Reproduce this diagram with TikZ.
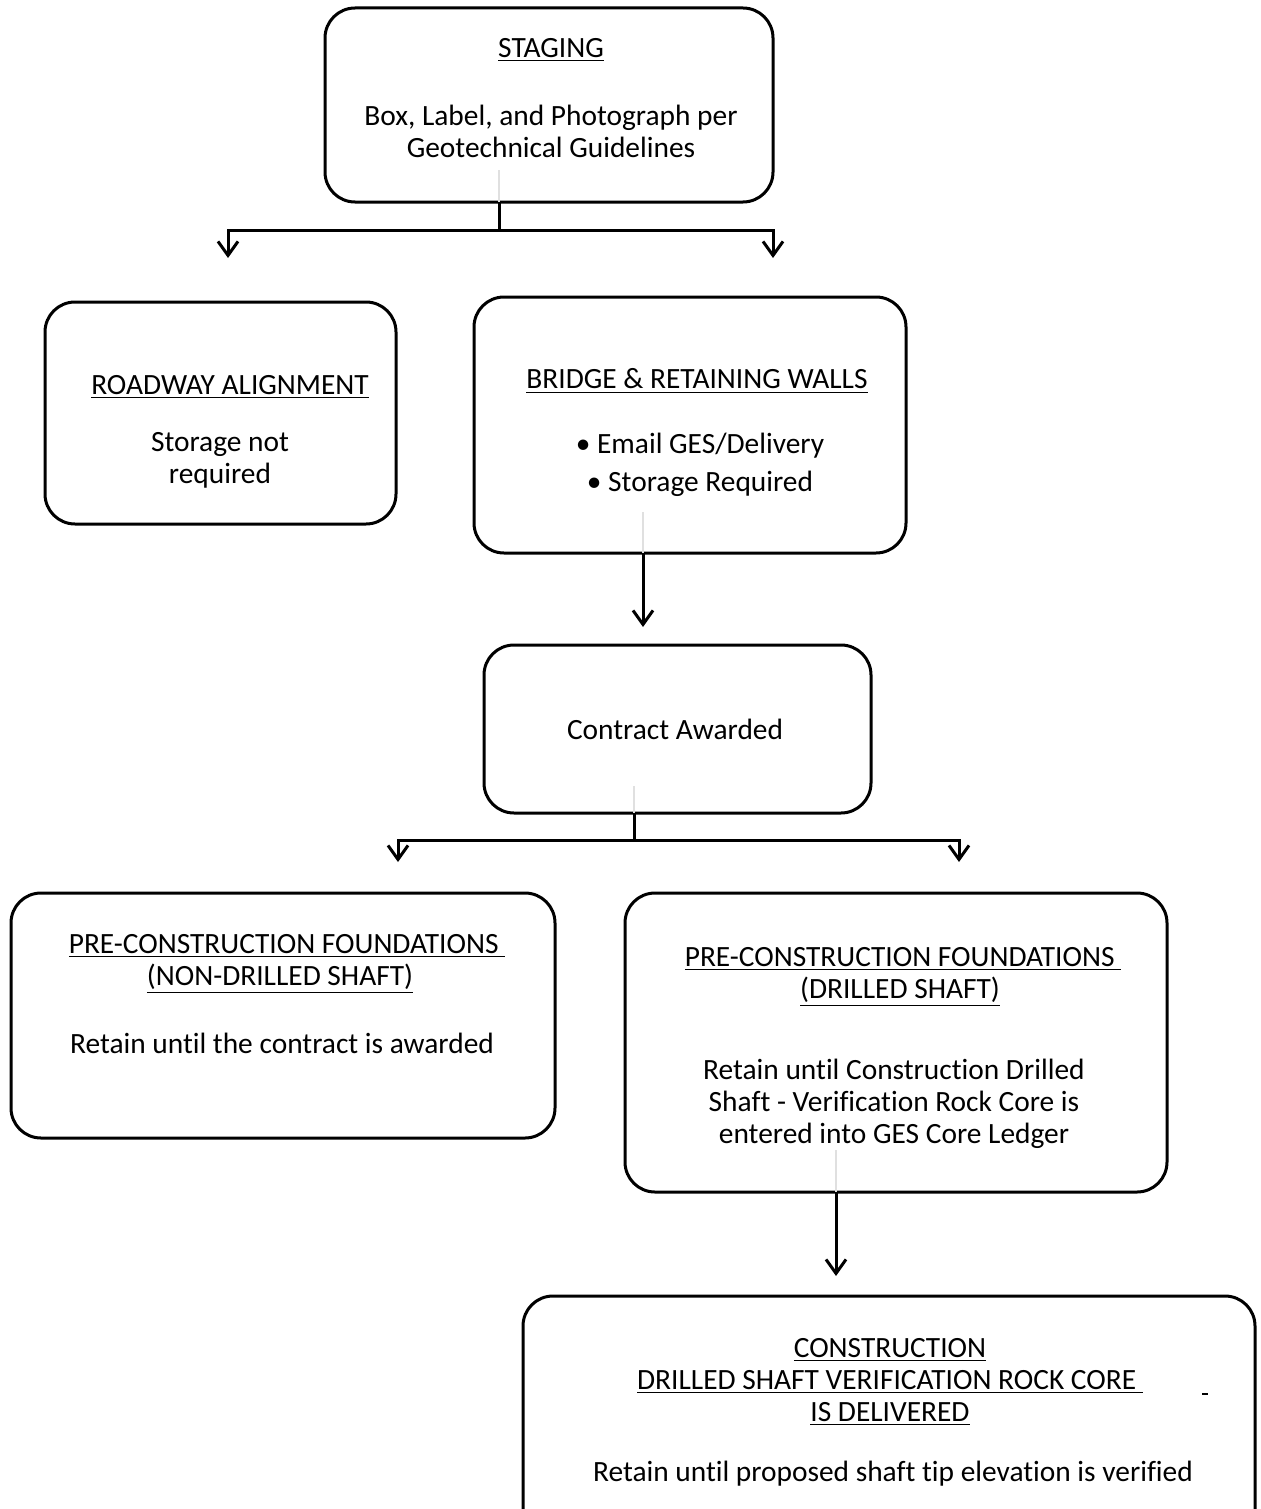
\documentclass[tikz,border=0pt]{standalone}
\usepackage{fontspec}
\setmainfont{Carlito}[Ligatures=NoCommon]
\usetikzlibrary{arrows.meta}
\begin{document}
\begin{tikzpicture}[x=0.5pt,y=-0.5pt,
  box/.style={draw, line width=1.5pt, rounded corners=15pt, inner sep=0pt, outer sep=0pt},
  txt/.style={font=\fontsize{14.7pt}{16pt}\selectfont, inner sep=0pt, align=center},
  con/.style={line width=1.5pt},
  arr/.style={line width=1.5pt, -{Straight Barb[length=7pt,width=10pt,line width=1.5pt]}},
  ghost/.style={draw=black!12, line width=1pt}]
\clip (0,0) rectangle (1261,1509);
\fill[white] (0,0) rectangle (1261,1509);
% boxes
\node[box, minimum width=224pt, minimum height=97pt] (staging) at (549,105) {};
\node[box, minimum width=175.5pt, minimum height=111pt] (roadway) at (220.5,413) {};
\node[box, minimum width=216pt, minimum height=128pt] (bridge) at (690,425) {};
\node[box, minimum width=193.5pt, minimum height=84pt] (contract) at (677.5,729) {};
\node[box, minimum width=272pt, minimum height=122.5pt] (nondrilled) at (283,1015.5) {};
\node[box, minimum width=271pt, minimum height=149.5pt] (drilled) at (896,1042.5) {};
\node[box, minimum width=366pt, minimum height=132pt] (constr) at (889,1428) {};
% texts
\node[txt] (t1a) at (551,50) {\underline{STAGING}};
\node[txt] (t1b) at (551,131) {Box, Label, and Photograph per\\Geotechnical Guidelines};
\node[txt] (t2a) at (230,387) {\underline{ROADWAY ALIGNMENT}};
\node[txt] (t2b) at (220,460) {Storage not\\required};
\node[txt] (t3a) at (697,381) {\underline{BRIDGE \& RETAINING WALLS}};
\node[txt] (t3b) at (700,446) {\textbullet\ Email GES/Delivery};
\node[txt] (t3c) at (700,484) {\textbullet\ Storage Required};
\node[txt] (t4) at (675,729) {Contract Awarded};
\node[txt] (t5a) at (287,946) {\underline{PRE-CONSTRUCTION FOUNDATIONS\ }};
\node[txt] (t5b) at (280,979) {\underline{(NON-DRILLED SHAFT)}};
\node[txt] (t5c) at (282,1043) {Retain until the contract is awarded};
\node[txt] (t6a) at (903,959) {\underline{PRE-CONSTRUCTION FOUNDATIONS\ }};
\node[txt] (t6b) at (900,992) {\underline{(DRILLED SHAFT)}};
\node[txt] (t6c) at (894,1104) {Retain until Construction Drilled\\Shaft - Verification Rock Core is\\entered into GES Core Ledger};
\node[txt] (t7a) at (890,1350) {\underline{CONSTRUCTION}};
\node[txt] (t7b) at (890,1382) {\underline{DRILLED SHAFT VERIFICATION ROCK CORE\ }};
\node[txt] (t7c) at (890,1414) {\underline{IS DELIVERED}};
\node[txt] (t7d) at (893,1474) {Retain until proposed shaft tip elevation is verified};
\coordinate (dotA) at (1202,1394);
\draw[line width=1pt] (dotA) -- ++(6,0);
% faint artefact lines
\draw[ghost] (499,170) -- (staging.south -| 499,0);
\draw[ghost] (643,512) -- (bridge.south -| 643,0);
\draw[ghost] (634,786) -- (contract.south -| 634,0);
\draw[ghost] (836,1150) -- (drilled.south -| 836,0);
% connectors
\coordinate (j1) at (499,230);
\coordinate (a1) at (228,258);
\coordinate (a2) at (773,258);
\draw[con] (staging.south -| j1) -- (j1);
\draw[arr] (j1) -| (a1);
\draw[arr] (j1) -| (a2);
\coordinate (a3) at (643,627);
\draw[arr] (bridge.south -| a3) -- (a3);
\coordinate (j2) at (634,840);
\coordinate (a4) at (398,862);
\coordinate (a5) at (959,862);
\draw[con] (contract.south -| j2) -- (j2);
\draw[arr] (j2) -| (a4);
\draw[arr] (j2) -| (a5);
\coordinate (a6) at (836,1276);
\draw[arr] (drilled.south -| a6) -- (a6);
\end{tikzpicture}
\end{document}
